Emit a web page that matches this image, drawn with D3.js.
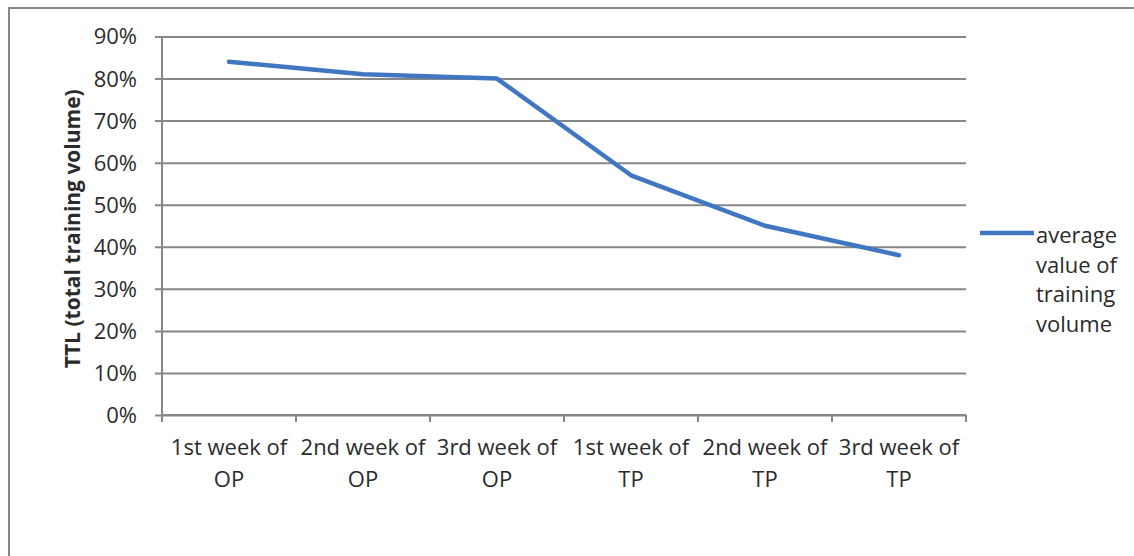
<!DOCTYPE html>
<html>
<head>
<meta charset="utf-8">
<script src="https://cdn.jsdelivr.net/npm/d3@7"></script>
<style>
  body { margin: 0; background: #fff; }
  svg { display: block; }
  text { font-family: "Open Sans", sans-serif; fill: #2b2b2b; }
</style>
</head>
<body>
<script>
// chart data
var categories = ["1st week of OP", "2nd week of OP", "3rd week of OP",
                  "1st week of TP", "2nd week of TP", "3rd week of TP"];
var volume = [0.84, 0.81, 0.80, 0.57, 0.45, 0.38];
var yTicks = [0, 0.1, 0.2, 0.3, 0.4, 0.5, 0.6, 0.7, 0.8, 0.9];
var seriesName = ["average", "value of", "training", "volume"];
var yTitle = "TTL (total training volume)";

var width = 1134, height = 556;
var plot = {left: 162, right: 966, top: 36.5, bottom: 415};
var grey = "#878787", blue = "#4177c1";

var svg = d3.select("body").append("svg")
	.attr("width", width)
	.attr("height", height);

// outer frame, runs off the right and bottom edges like the picture
svg.append("rect")
	.attr("x", 9).attr("y", 8)
	.attr("width", width).attr("height", height)
	.attr("fill", "#fff")
	.attr("stroke", grey)
	.attr("stroke-width", 2);

var x = d3.scaleBand().domain(categories).range([plot.left, plot.right]);
var y = d3.scaleLinear().domain([0, 0.9]).range([plot.bottom, plot.top]);

// gridlines + y axis
var yAxis = svg.append("g")
	.attr("transform", "translate(" + plot.left + ",0)")
	.call(d3.axisLeft(y).tickValues(yTicks).tickFormat(d3.format(".0%"))
		.tickSize(-(plot.right - plot.left)).tickPadding(25));
yAxis.select(".domain").remove();
yAxis.selectAll(".tick line")
	.attr("x1", -7)
	.attr("stroke", grey).attr("stroke-width", 2);
yAxis.selectAll(".tick text")
	.attr("font-size", 22).attr("font-family", "Open Sans").attr("fill", "#2b2b2b")
	.attr("dy", "0.34em");

svg.append("line")
	.attr("x1", plot.left).attr("x2", plot.left)
	.attr("y1", plot.top).attr("y2", plot.bottom)
	.attr("stroke", grey).attr("stroke-width", 2);

// x axis: ticks on category boundaries
var xg = svg.append("g").attr("transform", "translate(0," + plot.bottom + ")");
xg.append("line")
	.attr("x1", plot.left).attr("x2", plot.right)
	.attr("stroke", grey).attr("stroke-width", 2);
var bounds = categories.map(function (c) { return x(c); }).concat([plot.right]);
xg.selectAll(".xt").data(bounds).enter().append("line")
	.attr("x1", function (d) { return d; }).attr("x2", function (d) { return d; })
	.attr("y1", 0).attr("y2", 7)
	.attr("stroke", grey).attr("stroke-width", 2);

// wrapped category labels
var lbl = xg.selectAll(".xl").data(categories).enter().append("text")
	.attr("text-anchor", "middle")
	.attr("font-size", 22)
	.attr("transform", function (d) { return "translate(" + (x(d) + x.bandwidth() / 2) + ",0)"; });
lbl.append("tspan").attr("x", 0).attr("y", 40)
	.text(function (d) { return d.replace(/ (OP|TP)$/, ""); });
lbl.append("tspan").attr("x", 0).attr("y", 72)
	.text(function (d) { return d.match(/(OP|TP)$/)[0]; });

// y title
svg.append("text")
	.attr("transform", "translate(80," + ((plot.top + plot.bottom) / 2 + 3) + ") rotate(-90)")
	.attr("text-anchor", "middle")
	.attr("font-size", 21)
	.attr("font-weight", "bold")
	.attr("fill", "#111")
	.text(yTitle);

// the series
var line = d3.line()
	.x(function (d, i) { return x(categories[i]) + x.bandwidth() / 2; })
	.y(function (d) { return y(d); });
svg.append("path")
	.datum(volume)
	.attr("d", line)
	.attr("fill", "none")
	.attr("stroke", blue)
	.attr("stroke-width", 4.5)
	.attr("stroke-linecap", "round")
	.attr("stroke-linejoin", "round");

// legend
var leg = svg.append("g").attr("transform", "translate(980,233)");
leg.append("line")
	.attr("x1", 0).attr("x2", 54)
	.attr("stroke", blue).attr("stroke-width", 4.5);
leg.append("text")
	.attr("x", 56).attr("y", 10)
	.attr("font-size", 22)
	.selectAll("tspan").data(seriesName).enter().append("tspan")
	.attr("x", 56)
	.attr("dy", function (d, i) { return i ? 29.5 : 0; })
	.text(function (d) { return d; });
</script>
</body>
</html>
